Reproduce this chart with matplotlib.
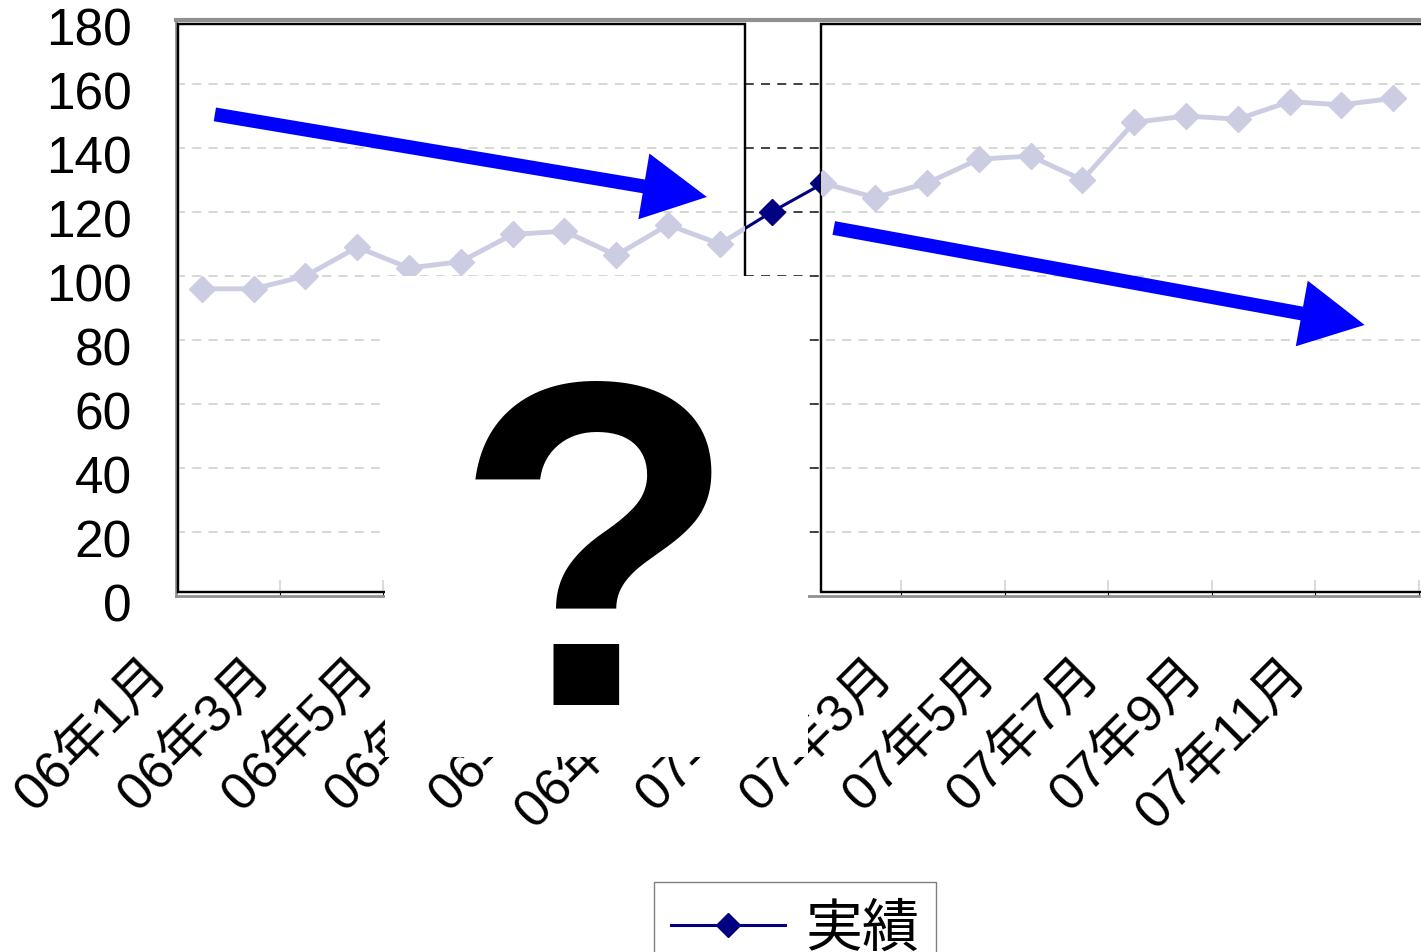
import matplotlib
matplotlib.use("Agg")
import matplotlib.pyplot as plt
import matplotlib.transforms as mtransforms
from matplotlib.patches import Rectangle
from matplotlib.lines import Line2D

# ── Data ───────────────────────────────────────────────────────────────
months = ["06年1月", "06年2月", "06年3月", "06年4月", "06年5月", "06年6月",
          "06年7月", "06年8月", "06年9月", "06年10月", "06年11月", "06年12月",
          "07年1月", "07年2月", "07年3月", "07年4月", "07年5月", "07年6月",
          "07年7月", "07年8月", "07年9月", "07年10月", "07年11月", "07年12月"]
actual = [96, 96, 100, 109, 102.5, 104.5, 113, 114, 106.5, 116, 110, 120,
          129, 124.5, 129, 136.5, 137.5, 130, 148, 150, 149, 154.5, 153.5, 155.5]
y_ticks = [0, 20, 40, 60, 80, 100, 120, 140, 160, 180]
series_name = "実績"

# overlay pieces (slide decorations, data units)
left_pane = (-0.47, 10.48)
right_pane = (11.95, 24.0)
pane_y = (1.3, 178.6)
arrow_down_1 = ((0.25, 150.5), (9.75, 124.7))
arrow_down_2 = ((12.2, 115.0), (22.45, 84.7))

NAVY = "#000080"
FADED = "#CCCCE3"
LABEL_FONT = ["Liberation Sans", "Noto Sans CJK JP", "DejaVu Sans"]
plt.rcParams["font.family"] = LABEL_FONT

fig = plt.figure(figsize=(14.21, 9.53), dpi=100)
ax = fig.add_axes([176 / 1421, 1 - 597 / 953, 1243 / 1421, 576 / 953])

x = list(range(len(months)))

# ── Original chart (dark) ──────────────────────────────────────────────
ax.set_xlim(-0.5, len(months) - 0.5)
ax.set_ylim(0, 180)
ax.set_yticks(y_ticks)
ax.set_yticklabels([str(v) for v in y_ticks])
ax.tick_params(axis="y", length=0, pad=32, labelsize=37)
down = mtransforms.ScaledTranslation(0, -0.05, fig.dpi_scale_trans)
for lab in ax.get_yticklabels():
    lab.set_transform(lab.get_transform() + down)
for v in y_ticks[1:-1]:
    ax.axhline(v, color="#333333", lw=1.3, ls=(0, (5, 4)), zorder=1)
ax.plot(x, actual, color=NAVY, lw=2.2, marker="D", ms=13, zorder=2)

major = [i + 1.5 for i in range(0, len(months) - 1, 2)]
ax.set_xticks(major)
ax.set_xticklabels([""] * len(major))
ax.set_xticks(x[::2], months[::2], minor=True)
ax.tick_params(axis="x", which="major", direction="in", length=3, color="black")
ax.tick_params(axis="x", which="minor", length=0, labelsize=37.5, pad=38)
offset = mtransforms.ScaledTranslation(-0.6, 0, fig.dpi_scale_trans)
for lab in ax.get_xticklabels(minor=True):
    lab.set_rotation(45)
    lab.set_ha("right")
    lab.set_va("top")
    lab.set_rotation_mode("anchor")
    lab.set_transform(lab.get_transform() + offset)

ax.spines["right"].set_visible(False)
ax.spines["top"].set_color("#909090")
ax.spines["top"].set_linewidth(3)
ax.spines["left"].set_color("#909090")
ax.spines["left"].set_linewidth(2)
ax.spines["bottom"].set_color("#909090")
ax.spines["bottom"].set_linewidth(2)

# ── Faded panes laid over the chart ────────────────────────────────────
for x0, x1 in [left_pane, right_pane]:
    pane = Rectangle((x0, pane_y[0]), x1 - x0, pane_y[1] - pane_y[0],
                     facecolor="white", edgecolor="black", lw=1.6,
                     zorder=3, clip_on=False)
    ax.add_patch(pane)
    grid = ax.hlines(y_ticks[1:-1], -0.5, len(months), colors="#D4D4D4",
                     lw=1.3, linestyles=(0, (5, 4)), zorder=3.1)
    grid.set_clip_path(pane)
    ticks = ax.vlines(major, pane_y[0], 5, colors="#D4D4D4", lw=1.2,
                      zorder=3.1)
    ticks.set_clip_path(pane)
    faded, = ax.plot(x, actual, color=FADED, lw=3.5, marker="D", ms=13,
                     zorder=3.2)
    faded.set_clip_path(pane)
    edge = Rectangle((x0, pane_y[0]), x1 - x0, pane_y[1] - pane_y[0],
                     facecolor="none", edgecolor="black", lw=1.6,
                     zorder=3.15, clip_on=False)
    ax.add_patch(edge)

# ── Trend arrows ───────────────────────────────────────────────────────
for tail, tip in [arrow_down_1, arrow_down_2]:
    ax.annotate("", xy=tip, xytext=tail, zorder=5,
                arrowprops=dict(arrowstyle="simple,head_length=4.6,head_width=4.8,tail_width=1.0",
                                mutation_scale=10, color="#0000FF", lw=0,
                                shrinkA=0, shrinkB=0))

# ── Question mark block ────────────────────────────────────────────────
fig.add_artist(Rectangle((385 / 1421, 1 - 758 / 953), 423 / 1421, 481 / 953,
                         transform=fig.transFigure, facecolor="white",
                         edgecolor="none", zorder=10))
fig.text(596 / 1421, 1 - 705 / 953, "?", fontsize=335, fontweight="bold",
         family="Liberation Sans", ha="center", va="baseline", zorder=11)

# ── Legend (cut by the bottom edge) ────────────────────────────────────
handle = Line2D([], [], color=NAVY, lw=2.2, marker="D", ms=12)
fig.legend(handles=[handle], labels=[series_name], loc="upper center",
           bbox_to_anchor=(795 / 1421, 1 - 883 / 953),
           frameon=True, fancybox=False, edgecolor="#808080",
           framealpha=1, handlelength=2.0, handletextpad=0.35,
           borderpad=0.3, borderaxespad=0,
           prop={"family": ["Noto Sans CJK JP"], "size": 41})

fig.savefig("out.png", dpi=100)
